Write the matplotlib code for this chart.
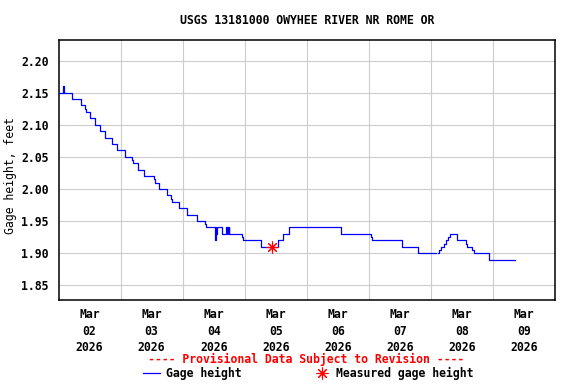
import numpy as np
import matplotlib
matplotlib.use('Agg')
import matplotlib.pyplot as plt
from matplotlib.lines import Line2D

plt.rcParams['font.family'] = ['DejaVu Sans Mono']
plt.rcParams['font.weight'] = 'bold'
plt.rcParams['font.size'] = 8.3

# gage height: hours since Mar 02 00:00 where the value changes (step data)
hours = [0.0, 1.75, 2.0, 2.25, 5.3, 8.7, 10.2, 10.6, 12.2, 14.1, 15.9, 16.2,
         18.0, 20.6, 22.5, 25.7, 28.6, 28.9, 30.9, 33.2, 37.0, 37.4, 38.9,
         41.8, 43.5, 43.9, 46.7, 49.6, 53.4, 56.8, 57.2, 60.6, 60.85, 61.0,
         61.4, 63.2, 64.8, 65.0, 65.3, 65.5, 65.8, 66.0, 71.0, 71.4, 78.2,
         85.0, 86.9, 89.2, 109.1, 120.8, 121.2, 132.9, 139.1, 146.1, 146.9,
         147.1, 147.9, 149.1, 149.8, 150.5, 151.4, 154.0, 154.2, 157.6, 158.1,
         160.0, 160.7, 166.6, 176.5]
gage = [2.15, 2.16, 2.155, 2.15, 2.14, 2.13, 2.125, 2.12, 2.11, 2.10, 2.095, 2.09,
        2.08, 2.07, 2.06, 2.05, 2.045, 2.04, 2.03, 2.02, 2.015, 2.01, 2.00,
        1.99, 1.985, 1.98, 1.97, 1.96, 1.95, 1.945, 1.94, 1.92, 1.94, 1.93,
        1.94, 1.93, 1.94, 1.93, 1.94, 1.93, 1.94, 1.93, 1.925, 1.92, 1.91,
        1.92, 1.93, 1.94, 1.93, 1.925, 1.92, 1.91, 1.90, np.nan, 1.90,
        1.905, 1.91, 1.915, 1.92, 1.925, 1.93, 1.925, 1.92, 1.915, 1.91,
        1.905, 1.90, 1.89, 1.89]

# field measurement
meas_hours = [82.7]
meas_gage = [1.91]

day_labels = ['Mar\n02\n2026', 'Mar\n03\n2026', 'Mar\n04\n2026', 'Mar\n05\n2026',
              'Mar\n06\n2026', 'Mar\n07\n2026', 'Mar\n08\n2026', 'Mar\n09\n2026']
y_ticks = [1.85, 1.90, 1.95, 2.00, 2.05, 2.10, 2.15, 2.20]

fig = plt.figure(figsize=(5.76, 3.84), dpi=100)
ax = fig.add_axes([58.5 / 576, 1 - 300 / 384, (555 - 58.5) / 576, (300 - 40) / 384])

x = np.array(hours) / 24.0
ax.plot(x, gage, drawstyle='steps-post', color='#0000ff', lw=0.9, zorder=3)
ax.plot(np.array(meas_hours) / 24.0, meas_gage, linestyle='none',
        marker=(8, 2, 0), markersize=8.5, markeredgewidth=0.8, color='#ff0000', zorder=4)

ax.set_xlim(0, 8)
ax.set_ylim(1.827, 2.232)

# grid at midnight, labels at noon
ax.set_xticks(np.arange(1, 8))
ax.set_xticklabels([])
ax.set_xticks(np.arange(8) + 0.5, minor=True)
ax.set_xticklabels(day_labels, minor=True, linespacing=1.35)
ax.set_yticks(y_ticks)
ax.set_yticklabels(['%.2f' % v for v in y_ticks])
ax.tick_params(axis='both', which='both', length=0)
ax.tick_params(axis='y', pad=7)
ax.tick_params(axis='x', which='minor', pad=6)

ax.grid(True, which='major', color='#cccccc', lw=0.8)
ax.set_axisbelow(True)
for s in ax.spines.values():
    s.set_linewidth(1.1)

ax.set_ylabel('Gage height, feet')
ax.yaxis.set_label_coords(-(58.5 - 17) / 496.5, 0.48)
fig.text(306.8 / 576, 1 - 20 / 384, 'USGS 13181000 OWYHEE RIVER NR ROME OR',
         ha='center', va='center')

# provisional note and legend
fig.text(305.7 / 576, 1 - 359 / 384, '---- Provisional Data Subject to Revision ----',
         ha='center', va='center', color='#ff0000')
fig.add_artist(Line2D([142.6 / 576, 160 / 576], [1 - 373 / 384, 1 - 373 / 384],
                      color='#0000ff', lw=0.9, transform=fig.transFigure))
fig.text(165.8 / 576, 1 - 373 / 384, 'Gage height', ha='left', va='center')
fig.add_artist(Line2D([322.4 / 576], [1 - 373 / 384], linestyle='none',
                      marker=(8, 2, 0), markersize=8.5, markeredgewidth=0.8,
                      color='#ff0000', transform=fig.transFigure))
fig.text(336.4 / 576, 1 - 373 / 384, 'Measured gage height', ha='left', va='center')

fig.savefig('out.png', dpi=100)
